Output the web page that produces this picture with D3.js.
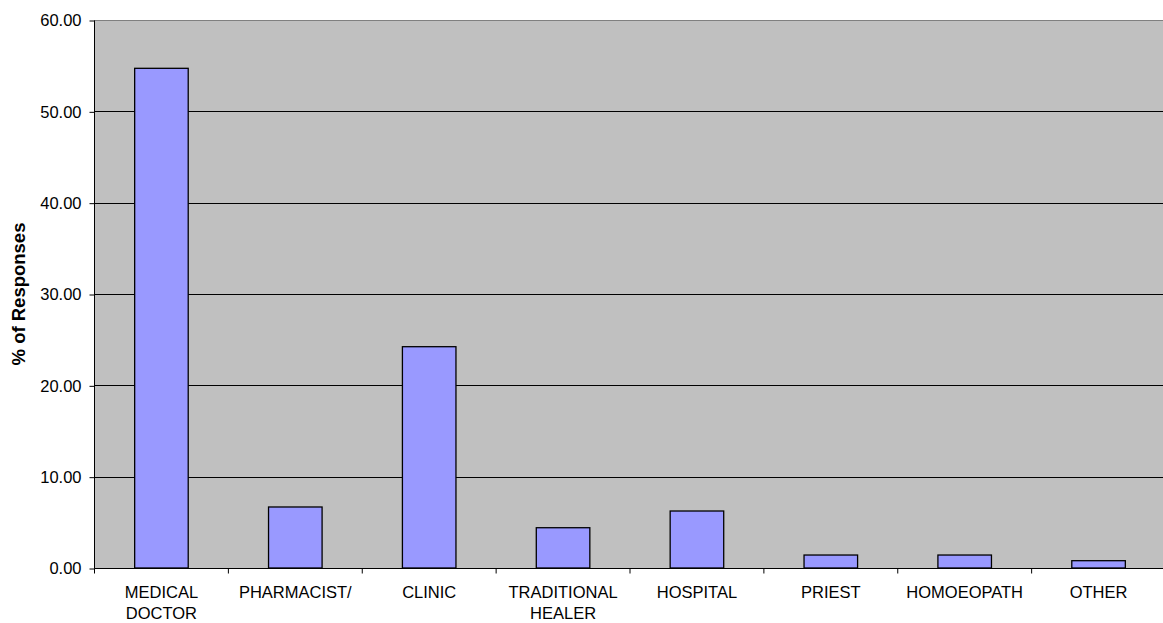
<!DOCTYPE html>
<html>
<head>
<meta charset="utf-8">
<style>
body { margin: 0; background: #fff; }
svg text { font-family: "Liberation Sans", Arial, sans-serif; }
</style>
</head>
<body>
<svg width="1163" height="623"></svg>
<script src="https://d3js.org/d3.v7.min.js"></script>
<script>
var categories = ["MEDICAL DOCTOR", "PHARMACIST/", "CLINIC", "TRADITIONAL HEALER", "HOSPITAL", "PRIEST", "HOMOEOPATH", "OTHER"];
var values = [54.71, 6.68, 24.23, 4.41, 6.24, 1.42, 1.42, 0.80];
var yTicks = [0, 10, 20, 30, 40, 50, 60];

var svg = d3.select("svg");
var pLeft = 94.5, pTop = 20, pBottom = 568, pRight = 1165.5;

var x = d3.scaleBand().domain(categories).range([pLeft, pRight]).paddingInner(0.6).paddingOuter(0.3);
var xb = d3.scaleBand().domain(categories).range([pLeft, pRight]);
var y = d3.scaleLinear().domain([0, 60]).range([pBottom, pTop]);

// plot background
svg.append("rect").attr("x", pLeft).attr("y", pTop + 0.5).attr("width", pRight - pLeft).attr("height", pBottom - pTop)
  .attr("fill", "#c0c0c0").attr("stroke", "#808080").attr("stroke-width", 1);

// gridlines
svg.selectAll(".grid").data(yTicks.slice(1, -1)).enter().append("line")
  .attr("x1", pLeft).attr("x2", pRight)
  .attr("y1", function(d) { return Math.round(y(d)) + 0.5; })
  .attr("y2", function(d) { return Math.round(y(d)) + 0.5; })
  .attr("stroke", "#000").attr("stroke-width", 1);

// bars
svg.selectAll(".bar").data(values).enter().append("rect")
  .attr("x", function(d, i) { return x(categories[i]); })
  .attr("y", function(d) { return y(d); })
  .attr("width", x.bandwidth())
  .attr("height", function(d) { return pBottom - y(d); })
  .attr("fill", "#9999ff").attr("stroke", "#000").attr("stroke-width", 1.3);

// y axis
var yAxis = d3.axisLeft(y).tickValues(yTicks).tickSize(5).tickPadding(8)
  .tickFormat(function(d) { return d3.format(".2f")(d); });
var ga = svg.append("g").attr("transform", "translate(" + pLeft + ",0.5)").call(yAxis);
ga.select(".domain").attr("stroke", "#000").attr("d", "M0," + pTop + "V" + pBottom);
ga.selectAll("text").attr("font-size", "16.5px").attr("fill", "#000");

// x axis
var xAxis = d3.axisBottom(xb).tickSize(5).tickFormat("");
var gx = svg.append("g").attr("transform", "translate(0," + (pBottom + 0.5) + ")").call(xAxis);
gx.select(".domain").attr("d", "M" + pLeft + ",0H" + pRight).attr("stroke", "#000");
gx.selectAll(".tick line").attr("transform", "translate(" + (-xb.bandwidth() / 2) + ",0)");

// category labels
categories.forEach(function(c) {
  var words = c.split(" ");
  var cx = xb(c) + xb.bandwidth() / 2;
  var t = svg.append("text").attr("x", cx).attr("y", 598)
    .attr("text-anchor", "middle").attr("font-size", "16.5px").attr("fill", "#000");
  words.forEach(function(w, i) {
    t.append("tspan").attr("x", cx).attr("dy", i === 0 ? 0 : 21).text(w);
  });
});

// y title
svg.append("text").attr("transform", "translate(25,294) rotate(-90)")
  .attr("text-anchor", "middle").attr("font-size", "18.5px").attr("font-weight", "bold")
  .text("% of Responses");
</script>
</body>
</html>
